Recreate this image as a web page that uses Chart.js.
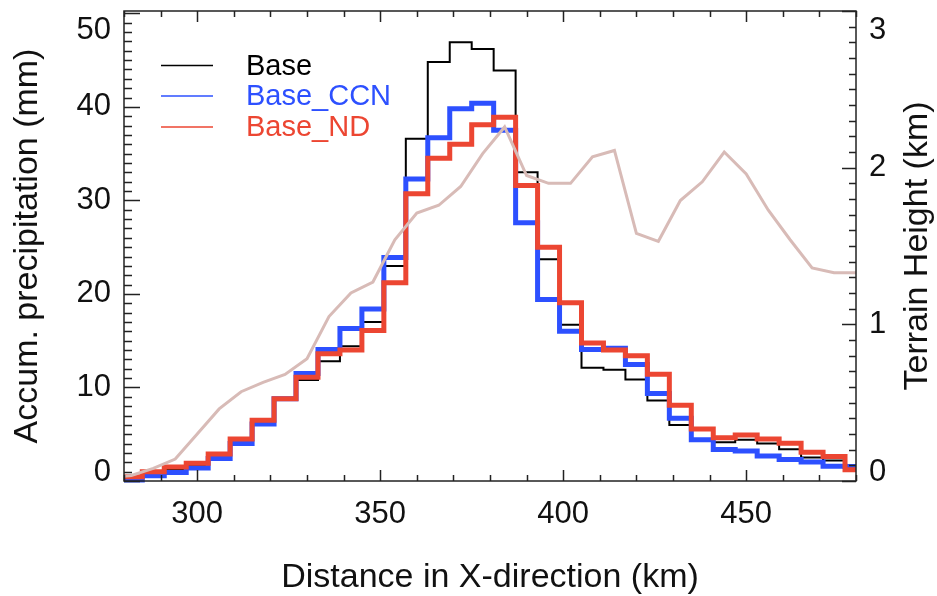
<!DOCTYPE html>
<html><head><meta charset="utf-8">
<script src="https://cdn.jsdelivr.net/npm/chart.js@4"></script>
<style>html,body{margin:0;padding:0;background:#fff}canvas{display:block}</style>
</head><body>
<canvas id="c" width="937" height="596"></canvas>
<script>
// ---- data ----
const binCenters = [282,288,294,300,306,312,318,324,330,336,342,348,354,360,366,372,378,384,390,396,402,408,414,420,426,432,438,444,450,456,462,468,474,480];
const precipBase = [0.2,0.7,1.2,1.6,2.6,4.2,6.3,8.7,10.8,12.8,14.4,17.0,23.0,36.6,44.8,46.9,46.2,43.9,33.0,23.7,16.7,12.1,11.9,10.85,8.6,6.0,4.5,4.15,4.4,4.0,3.4,2.5,2.2,1.65];
const precipCCN  = [0.1,0.55,0.9,1.4,2.4,4.0,6.1,8.8,11.5,14.05,16.3,18.4,23.9,32.3,36.7,39.8,40.4,37.5,27.6,19.4,16.0,14.05,14.2,12.45,9.35,6.7,4.4,3.38,3.2,2.68,2.3,2.04,1.58,1.55];
const precipND   = [0.45,1.0,1.5,1.9,2.9,4.5,6.5,8.8,11.1,13.6,14.0,16.1,21.2,30.7,34.5,36.0,38.1,38.9,31.6,25.0,19.05,14.75,14.0,13.4,11.4,8.1,5.55,4.62,4.93,4.5,4.03,3.08,2.62,1.2];
const terrainX      = [276,282,288,294,300,306,312,318,324,330,336,342,348,354,360,366,372,378,384,390,396,402,408,414,420,426,432,438,444,450,456,462,468,474,480];
const terrainHeight = [0.02,0.035,0.08,0.14,0.30,0.46,0.57,0.63,0.68,0.78,1.05,1.20,1.27,1.54,1.71,1.76,1.88,2.09,2.26,1.95,1.90,1.90,2.07,2.11,1.58,1.53,1.79,1.91,2.10,1.96,1.73,1.54,1.36,1.33,1.33];
const xTicks = [300,350,400,450];
const yLeftTicks = [0,10,20,30,40,50];
const yRightTicks = [0,1,2,3];
const seriesNames = ['Base','Base_CCN','Base_ND'];
const rightTitle = 'Terrain Height (km)';

// ---- styles ----
const FONT = "'Liberation Sans', Arial, Helvetica, sans-serif";
const COLORS = ['#000000','#2d50ff','#ec4632'];
const TERRAIN_COLOR = '#d8bbb7';
const AXIS_COLOR = '#222222';
const TEXT_COLOR = '#111111';
const BIN = 6;

function stepPoints(vals){
  const pts = binCenters.map((c,i)=>({x:c-BIN/2, y:vals[i]}));
  pts.push({x:binCenters[binCenters.length-1]+BIN/2, y:vals[vals.length-1]});
  return pts;
}

const decor = {
  id:'decor',
  afterDraw(chart){
    const {ctx, chartArea:a, scales} = chart;
    const x = scales.x, y = scales.y, y2 = scales.y2;
    ctx.save();
    // box
    ctx.strokeStyle = AXIS_COLOR; ctx.lineWidth = 1.5;
    ctx.strokeRect(a.left, a.top, a.right-a.left, a.bottom-a.top);
    ctx.beginPath();
    // x ticks bottom & top
    for (let v = x.min; v <= x.max + 1e-6; v += 10) {
      const px = Math.round(x.getPixelForValue(v)) + 0.5;
      const major = xTicks.includes(v);
      const L = major ? 11 : 6;
      ctx.moveTo(px, a.bottom); ctx.lineTo(px, a.bottom - L);
      ctx.moveTo(px, a.top); ctx.lineTo(px, a.top + L);
    }
    // left ticks
    for (let v = 0; v <= 50 + 1e-6; v += 1) {
      const py = Math.round(y.getPixelForValue(v)) + 0.5;
      const L = (v % 10 === 0) ? 16 : 8;
      ctx.moveTo(a.left, py); ctx.lineTo(a.left + L, py);
    }
    // right ticks
    for (let i = 0; i <= 30; i++) {
      const v = i / 10;
      const py = Math.round(y2.getPixelForValue(v)) + 0.5;
      const L = (i % 10 === 0) ? 14 : 7;
      ctx.moveTo(a.right, py); ctx.lineTo(a.right - L, py);
    }
    ctx.stroke();

    // y tick labels
    ctx.fillStyle = TEXT_COLOR;
    ctx.font = "31px " + FONT;
    ctx.textAlign = 'right';
    yLeftTicks.forEach((v,i)=>{
      const py = y.getPixelForValue(v);
      if (i === 0) { ctx.textBaseline = 'alphabetic'; ctx.fillText(String(v), 111, py); }
      else if (i === yLeftTicks.length-1) { ctx.textBaseline = 'alphabetic'; ctx.fillText(String(v), 111, a.top + 28); }
      else { ctx.textBaseline = 'middle'; ctx.fillText(String(v), 111, py); }
    });
    ctx.textAlign = 'left';
    yRightTicks.forEach((v,i)=>{
      const py = y2.getPixelForValue(v);
      if (i === 0) { ctx.textBaseline = 'alphabetic'; ctx.fillText(String(v), 869, py); }
      else if (i === yRightTicks.length-1) { ctx.textBaseline = 'alphabetic'; ctx.fillText(String(v), 869, a.top + 28); }
      else { ctx.textBaseline = 'middle'; ctx.fillText(String(v), 869, py); }
    });

    // right axis title (reads bottom-to-top like the left one)
    ctx.save();
    ctx.font = "34px " + FONT;
    ctx.textAlign = 'center'; ctx.textBaseline = 'middle';
    ctx.translate(918, (a.top + a.bottom) / 2);
    ctx.rotate(-Math.PI / 2);
    ctx.fillText(rightTitle, 0, 0);
    ctx.restore();

    // legend
    ctx.font = "29px " + FONT;
    ctx.textAlign = 'left'; ctx.textBaseline = 'middle';
    const ly = [a.top + 54.5, a.top + 85, a.top + 116];
    seriesNames.forEach((name,i)=>{
      ctx.strokeStyle = COLORS[i]; ctx.lineWidth = 1.6;
      ctx.beginPath(); ctx.moveTo(a.left + 37, ly[i]); ctx.lineTo(a.left + 89, ly[i]); ctx.stroke();
      ctx.fillStyle = COLORS[i];
      ctx.fillText(name, a.left + 122, ly[i] + 1);
    });
    ctx.restore();
  }
};

const clipOpt = {left:0, right:0, top:8, bottom:8};
new Chart(document.getElementById('c'), {
  type:'line',
  data:{datasets:[
    {label:seriesNames[0], data:stepPoints(precipBase), yAxisID:'y', borderColor:COLORS[0], borderWidth:2, stepped:'before', pointRadius:0, order:4, clip:clipOpt, borderJoinStyle:'miter'},
    {label:seriesNames[1], data:stepPoints(precipCCN), yAxisID:'y', borderColor:COLORS[1], borderWidth:5, stepped:'before', pointRadius:0, order:3, clip:clipOpt, borderJoinStyle:'miter'},
    {label:seriesNames[2], data:stepPoints(precipND), yAxisID:'y', borderColor:COLORS[2], borderWidth:5, stepped:'before', pointRadius:0, order:2, clip:clipOpt, borderJoinStyle:'miter'},
    {label:'Terrain', data:terrainX.map((t,i)=>({x:t, y:terrainHeight[i]})), yAxisID:'y2', borderColor:TERRAIN_COLOR, borderWidth:3, pointRadius:0, order:1, tension:0, clip:{left:0,right:0,top:5,bottom:5}}
  ]},
  options:{
    responsive:false, animation:false, devicePixelRatio:1,
    layout:{padding:{top:11,left:0,right:0,bottom:0}},
    plugins:{legend:{display:false}, tooltip:{enabled:false}},
    scales:{
      x:{type:'linear', position:'bottom', min:280, max:480,
        afterBuildTicks:s=>{ s.ticks = xTicks.map(v=>({value:v})); },
        grid:{display:false, drawTicks:false}, border:{display:false},
        ticks:{font:{family:FONT, size:31}, color:TEXT_COLOR, padding:15, maxRotation:0, autoSkip:false},
        title:{display:true, text:'Distance in X-direction (km)', color:TEXT_COLOR, font:{family:FONT, size:34, lineHeight:1}, padding:{top:0,bottom:1}},
        afterFit:s=>{ s.height = 115; }
      },
      y:{type:'linear', position:'left', min:0, max:50.25,
        grid:{display:false, drawTicks:false}, border:{display:false}, ticks:{display:false},
        title:{display:true, text:'Accum. precipitation (mm)', color:TEXT_COLOR, font:{family:FONT, size:34, lineHeight:1}, padding:{top:11,bottom:0}},
        afterFit:s=>{ s.width = 124; }
      },
      y2:{type:'linear', position:'right', min:0, max:3,
        grid:{display:false, drawTicks:false}, border:{display:false}, ticks:{display:false},
        title:{display:false},
        afterFit:s=>{ s.width = 81; }
      }
    }
  },
  plugins:[decor]
});
</script>
</body></html>
